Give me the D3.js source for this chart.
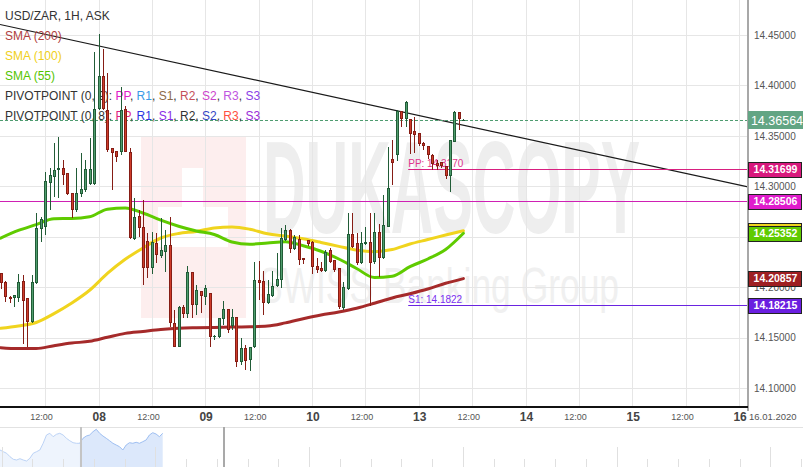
<!DOCTYPE html>
<html><head><meta charset="utf-8">
<script src="https://cdn.jsdelivr.net/npm/d3@7"></script>
<style>
html,body{margin:0;padding:0;background:#fff;}
svg{display:block;font-family:"Liberation Sans",Arial,sans-serif;}
</style></head><body>
<svg id="c" width="803" height="467"></svg>
<script>
// ---------- DATA ----------
const opens = [14.2138,14.2055,14.1907,14.1891,14.1897,14.2065,14.1891,14.1659,14.2039,14.2575,
14.2600,14.3036,14.3096,14.3162,14.3185,14.3129,14.2937,14.2766,14.2924,14.2964,
14.3023,14.3023,14.3764,14.4094,14.3757,14.3377,14.3353,14.3344,14.3764,14.3344,
14.2475,14.2706,14.2594,14.2462,14.2188,14.2436,14.2313,14.2353,14.2419,14.1649,
14.1411,14.1801,14.1735,14.2154,14.1824,14.1963,14.1907,14.1940,14.1504,14.1510,
14.1683,14.1782,14.1616,14.1702,14.1262,14.1395,14.1279,14.1411,14.2072,14.2062,
14.1841,14.1914,14.2013,14.2072,14.2468,14.2568,14.2376,14.2475,14.2287,14.2468,
14.2452,14.2211,14.2188,14.2164,14.2369,14.2270,14.2188,14.1792,14.1980,14.2528,
14.2436,14.2238,14.2426,14.2446,14.2250,14.2551,14.2287,14.2600,14.3268,14.3311,
14.3747,14.3665,14.3665,14.3549,14.3526,14.3433,14.3400,14.3314,14.3232,14.3244,
14.3199,14.3103,14.3443,14.3732,14.3650];
const highs = [14.2141,14.2062,14.1914,14.1926,14.2132,14.2122,14.1894,14.2122,14.2736,14.2699,
14.3145,14.3179,14.3427,14.3486,14.3261,14.3132,14.2939,14.3182,14.3328,14.3261,
14.3476,14.4335,14.4510,14.4358,14.4120,14.3380,14.3355,14.3988,14.3796,14.3377,
14.2882,14.2766,14.2865,14.2538,14.2551,14.2535,14.2684,14.2568,14.2699,14.1775,
14.1814,14.1824,14.2211,14.2156,14.2023,14.1965,14.2023,14.1943,14.1527,14.1696,
14.1867,14.1785,14.1782,14.1705,14.1494,14.1428,14.1408,14.2253,14.2260,14.2161,
14.2072,14.2164,14.2337,14.2584,14.2617,14.2573,14.2518,14.2518,14.2290,14.2470,
14.2454,14.2287,14.2250,14.2369,14.2392,14.2272,14.2191,14.2055,14.2733,14.2739,
14.2535,14.2545,14.2594,14.2733,14.2739,14.2627,14.2914,14.3390,14.3459,14.3757,
14.3750,14.3841,14.3668,14.3690,14.3532,14.3443,14.3402,14.3321,14.3261,14.3246,
14.3202,14.3462,14.3742,14.3737,14.3663];
const lows = [14.1983,14.1857,14.1847,14.1807,14.1857,14.1438,14.1411,14.1643,14.2037,14.2452,
14.2518,14.2766,14.2898,14.2882,14.3014,14.2914,14.2684,14.2749,14.2898,14.2947,
14.3018,14.3018,14.3757,14.3757,14.3341,14.2964,14.3244,14.3311,14.3341,14.2478,
14.2468,14.2501,14.2023,14.2092,14.2132,14.2238,14.2287,14.2154,14.1609,14.1405,
14.1408,14.1693,14.1693,14.1693,14.1725,14.1742,14.1824,14.1411,14.1477,14.1494,
14.1626,14.1544,14.1577,14.1213,14.1230,14.1180,14.1173,14.1395,14.1874,14.1725,
14.1834,14.1904,14.2003,14.1990,14.2459,14.2337,14.2369,14.2221,14.2228,14.2409,
14.2132,14.2144,14.2151,14.2151,14.2241,14.2151,14.1782,14.1775,14.1973,14.2389,
14.2221,14.2231,14.2419,14.1814,14.2231,14.2105,14.2280,14.2597,14.3014,14.3251,
14.3588,14.3591,14.3321,14.3328,14.3400,14.3360,14.3271,14.3162,14.3162,14.3182,
14.3073,14.2947,14.3440,14.3559,14.3643];
const closes = [14.2039,14.1901,14.1884,14.1920,14.2049,14.1867,14.1659,14.2049,14.2584,14.2672,
14.3053,14.3113,14.3162,14.3185,14.3113,14.2921,14.2766,14.2931,14.2971,14.3169,
14.3169,14.3764,14.4094,14.3764,14.3360,14.3334,14.3294,14.3757,14.3344,14.2485,
14.2699,14.2584,14.2188,14.2188,14.2452,14.2320,14.2369,14.2419,14.1643,14.1411,
14.1801,14.1735,14.2154,14.1824,14.1973,14.1917,14.1996,14.1504,14.1517,14.1693,
14.1782,14.1577,14.1702,14.1262,14.1395,14.1269,14.1405,14.2072,14.2042,14.1841,
14.1930,14.2016,14.2082,14.2485,14.2568,14.2376,14.2495,14.2270,14.2270,14.2426,
14.2204,14.2171,14.2164,14.2353,14.2253,14.2171,14.1801,14.2000,14.2528,14.2402,
14.2238,14.2436,14.2446,14.2238,14.2551,14.2287,14.2617,14.2981,14.3234,14.3747,
14.3665,14.3839,14.3519,14.3509,14.3420,14.3397,14.3311,14.3217,14.3205,14.3199,
14.3106,14.3459,14.3732,14.3670,14.36564];

const smaSlots = [0,4,8,12,16,20,24,28,32,36,40,44,48,52,56,60,64,68,72,76,80,84,88,92,96,100,104];
const sma200 = [14.1401,14.1392,14.1392,14.1421,14.1447,14.1464,14.1504,14.1543,14.1562,14.1581,14.1594,14.1599,14.1602,14.1605,14.1608,14.1615,14.1647,14.1688,14.1725,14.1755,14.1792,14.1841,14.1894,14.1936,14.1983,14.2039,14.20857];
const sma100 = [14.1593,14.1617,14.1651,14.1739,14.1844,14.1970,14.2137,14.2277,14.2389,14.2488,14.2533,14.2553,14.2588,14.2598,14.2575,14.2530,14.2507,14.2480,14.2444,14.2405,14.2368,14.2353,14.2374,14.2429,14.2473,14.2518,14.2560];
const sma55  = [14.2487,14.2563,14.2621,14.2680,14.2681,14.2698,14.2774,14.2786,14.2736,14.2665,14.2605,14.2558,14.2523,14.2449,14.2426,14.2439,14.2451,14.2411,14.2357,14.2280,14.2186,14.2096,14.2108,14.2204,14.2280,14.2374,14.25352];

const trendSlots = [-0.13, 167.95];
const trendPrices = [14.4604, 14.2994];

const lastPrice = 14.36564;
const pivotPP9 = 14.28506;          // PIVOTPOINT (0, 9) PP, full width
const pivotPP8 = 14.31699;          // PIVOTPOINT (0, 8) PP
const pivotS18 = 14.18215;          // PIVOTPOINT (0, 8) S1
const pivot8StartSlot = 91.6;

const priceTicks = [14.10,14.15,14.20,14.25,14.30,14.35,14.40,14.45];
const timeSlots  = [10,22,34,46,58,70,82,94,106,118,130,142,154,166];
const timeLabels = ["12:00","08","12:00","09","12:00","10","12:00","13","12:00","14","12:00","15","12:00","16"];

const legendTitle = "USD/ZAR, 1H, ASK";
const smaNames  = ["SMA (200)","SMA (100)","SMA (55)"];
const smaColors = ["#a52a2a","#f0d41e","#5fcb00"];
const smaTextColors = ["#b0413e","#f0d020","#55c400"];
const pivotNames = ["PP","R1","S1","R2","S2","R3","S3"];
const pivot9Colors = ["#e020c8","#3a9ae6","#8c6a48","#c4505a","#cc44cc","#c055e0","#8a3ee6"];
const pivot8Colors = ["#e01f82","#2a36e0","#8a2be6","#333333","#3444c4","#ff5040","#9a2ed8"];

const navValues = [14.2125,14.1913,14.1713,14.1288,14.0963,14.0875,14.1038,14.0875,14.0750,14.1088,
14.1713,14.1913,14.2125,14.2963,14.4000,14.4213,14.3788,14.4088,14.4213,14.4000,
14.3588,14.3288,14.3038,14.2963,14.2963,14.3588,14.3875,14.4000,14.4413,14.4713,
14.4213,14.3875,14.3588,14.3288,14.2963,14.2750,14.2538,14.2125,14.2750,14.3038,
14.2963,14.3088,14.2963,14.3163,14.3375,14.4000,14.4288,14.4125,14.3788,14.4213];
const navSplit = 24;

// ---------- LAYOUT ----------
const W = 803, H = 467, plotR = 748, plotB = 407;
const svg = d3.select("#c");
const x = d3.scaleLinear().domain([0,166]).range([0.6,739.3]);
const y = d3.scaleLinear().domain([14.10,14.45]).range([388.15,35]);

svg.append("defs").append("clipPath").attr("id","plot")
  .append("rect").attr("x",0).attr("y",0).attr("width",plotR).attr("height",plotB);

const plot = svg.append("g").attr("clip-path","url(#plot)");

// watermark
const wm = plot.append("g");
wm.append("rect").attr("x",141).attr("y",137).attr("width",105).attr("height",181).attr("fill","#fdeeee");
wm.append("rect").attr("x",182).attr("y",168).attr("width",21).attr("height",40).attr("fill","#fff");
wm.append("rect").attr("x",158).attr("y",207).attr("width",70).attr("height",40).attr("fill","#fff");
wm.append("text").attr("x",263).attr("y",233).attr("font-size",132).attr("font-weight","bold")
  .attr("fill","#eeeeee").attr("textLength",377).attr("lengthAdjust","spacingAndGlyphs").text("DUKASCOPY");
wm.append("text").attr("x",259).attr("y",303).attr("font-size",50)
  .attr("fill","#f0f0f0").attr("textLength",360).attr("lengthAdjust","spacingAndGlyphs").text("SWISS Banking Group");

// gridlines
plot.append("g").selectAll("line").data(timeSlots).join("line")
  .attr("x1",d=>Math.round(x(d))+0.5).attr("x2",d=>Math.round(x(d))+0.5)
  .attr("y1",0).attr("y2",plotB).attr("stroke","#e6e6e6");
plot.append("g").selectAll("line").data(priceTicks).join("line")
  .attr("y1",d=>Math.round(y(d))+0.5).attr("y2",d=>Math.round(y(d))+0.5)
  .attr("x1",0).attr("x2",plotR).attr("stroke","#e6e6e6");

// legend
const lg = svg.append("g").attr("font-size",12);
lg.append("text").attr("x",5).attr("y",20).attr("fill","#333").text(legendTitle);
smaNames.forEach((n,i)=>lg.append("text").attr("x",5).attr("y",40+20*i).attr("fill",smaTextColors[i]).text(n));
[["PIVOTPOINT (0, 9): ",pivot9Colors],["PIVOTPOINT (0, 8): ",pivot8Colors]].forEach((row,r)=>{
  const t = lg.append("text").attr("x",5).attr("y",100+20*r).attr("fill","#333");
  t.append("tspan").text(row[0]);
  pivotNames.forEach((p,i)=>{
    t.append("tspan").attr("fill",row[1][i]).text(p);
    if(i<pivotNames.length-1) t.append("tspan").attr("fill","#333").text(", ");
  });
});

// candles
const candles = opens.map((o,i)=>({i,o,h:highs[i],l:lows[i],c:closes[i]}));
const cg = svg.append("g").attr("clip-path","url(#plot)").attr("shape-rendering","crispEdges");
candles.forEach(d=>{
  const up = d.c >= d.o;
  const dark = up ? "#215c37" : "#861d15";
  const fill = up ? "#4f9d6d" : "#cf3c2a";
  const cx = Math.round(x(d.i));
  const yt = Math.round(y(Math.max(d.o,d.c))), yb = Math.max(Math.round(y(Math.min(d.o,d.c))), yt+1);
  cg.append("rect").attr("x",cx).attr("width",1)
    .attr("y",Math.round(y(d.h))).attr("height",Math.max(1,Math.round(y(d.l))-Math.round(y(d.h))))
    .attr("fill",dark);
  cg.append("rect").attr("x",cx-1).attr("width",3).attr("y",yt).attr("height",yb-yt).attr("fill",dark);
  if (yb-yt>2) cg.append("rect").attr("x",cx).attr("width",1).attr("y",yt+1).attr("height",yb-yt-2).attr("fill",fill);
});

// SMAs
const smaSeries = [sma200, sma100, sma55];
const line = d3.line().x(d=>x(d[0])).y(d=>y(d[1])).curve(d3.curveMonotoneX);
smaSeries.forEach((s,k)=>{
  plot.append("path").datum(smaSlots.map((sl,i)=>[sl,s[i]]))
    .attr("d",line).attr("fill","none").attr("stroke",smaColors[k]).attr("stroke-width",3)
    .attr("stroke-linejoin","round").attr("stroke-linecap","round");
});

// trendline
plot.append("line").attr("x1",x(trendSlots[0])).attr("y1",y(trendPrices[0]))
  .attr("x2",x(trendSlots[1])).attr("y2",y(trendPrices[1]))
  .attr("stroke","#1a1a1a").attr("stroke-width",1.2);

// pivot lines
plot.append("line").attr("x1",0).attr("x2",plotR).attr("y1",Math.round(y(pivotPP9))+0.5).attr("y2",Math.round(y(pivotPP9))+0.5)
  .attr("stroke","#cf20b4").attr("stroke-width",1.2);
plot.append("line").attr("x1",x(pivot8StartSlot)).attr("x2",plotR).attr("y1",Math.round(y(pivotPP8))+0.5).attr("y2",Math.round(y(pivotPP8))+0.5)
  .attr("stroke","#d81f80").attr("stroke-width",1.2);
plot.append("line").attr("x1",x(pivot8StartSlot)).attr("x2",plotR).attr("y1",Math.round(y(pivotS18))+0.5).attr("y2",Math.round(y(pivotS18))+0.5)
  .attr("stroke","#6a24e0").attr("stroke-width",1.2);
const f4 = d3.format(".4f"), f5 = d3.format(".5f");
plot.append("text").attr("x",x(pivot8StartSlot)).attr("y",y(pivotPP8)-2.5).attr("font-size",10)
  .attr("fill","#e0358c").text("PP: "+f4(pivotPP8));
plot.append("text").attr("x",x(pivot8StartSlot)).attr("y",y(pivotS18)-2).attr("font-size",10)
  .attr("fill","#7b2ff0").text("S1: "+f4(pivotS18));

// current price line
plot.append("line").attr("x1",0).attr("x2",plotR).attr("y1",Math.round(y(lastPrice))+0.5).attr("y2",Math.round(y(lastPrice))+0.5)
  .attr("stroke","#4f9c70").attr("stroke-dasharray","3,2");

// right axis
const ax = svg.append("g").attr("transform",`translate(${plotR},0)`)
  .call(d3.axisRight(y).tickValues(priceTicks).tickFormat(f5).tickSize(0).tickPadding(6));
ax.select(".domain").remove();
ax.selectAll("text").attr("font-size",10).attr("fill","#555").attr("font-family","Liberation Sans, Arial, sans-serif");
svg.append("line").attr("x1",plotR).attr("x2",plotR).attr("y1",0).attr("y2",plotB+4)
  .attr("stroke","#a8a8a8").attr("stroke-width",2);

// bottom axis
svg.append("line").attr("x1",0).attr("x2",plotR).attr("y1",plotB).attr("y2",plotB)
  .attr("stroke","#111").attr("stroke-width",2);
svg.append("g").selectAll("text").data(timeSlots).join("text")
  .attr("x",(d,i)=>x(d)+(timeLabels[i]==="12:00"?-3.5:0.8))
  .attr("y",(d,i)=>timeLabels[i]==="12:00"?420:421)
  .attr("text-anchor","middle")
  .attr("font-size",(d,i)=>timeLabels[i]==="12:00"?9:12)
  .attr("font-weight",(d,i)=>timeLabels[i]==="12:00"?"normal":"bold")
  .attr("fill",(d,i)=>timeLabels[i]==="12:00"?"#555":"#444")
  .text((d,i)=>timeLabels[i]);
svg.append("text").attr("x",749).attr("y",420).attr("font-size",9.5).attr("fill","#555").text("16.01.2020");

// price boxes
const boxes = [
  {v:sma100[sma100.length-1], fill:"#f0d41e", h:15},
  {v:pivotPP8, fill:"#d8187d", h:15},
  {v:pivotPP9, fill:"#e01ccc", h:15},
  {v:sma55[sma55.length-1], fill:"#5fcb00", h:15},
  {v:sma200[sma200.length-1], fill:"#9e1f22", h:15},
  {v:pivotS18, fill:"#6a1ee0", h:15},
];
boxes.forEach(b=>{
  const yc = y(b.v);
  svg.append("rect").attr("x",plotR+0.5).attr("y",Math.round(yc-b.h/2)+0.5).attr("width",53).attr("height",b.h)
    .attr("fill",b.fill).attr("stroke","#222").attr("stroke-width",1);
  svg.append("text").attr("x",plotR+27.5).attr("y",yc+3.8).attr("text-anchor","middle")
    .attr("font-size",10.5).attr("font-weight","bold").attr("fill","#fff").text(f5(b.v));
});
{
  const yc = y(lastPrice);
  svg.append("rect").attr("x",plotR).attr("y",Math.round(yc-9)).attr("width",55).attr("height",18).attr("fill","#62a584");
  svg.append("text").attr("x",plotR+29).attr("y",yc+4.5).attr("text-anchor","middle")
    .attr("font-size",12.5).attr("fill","#fff").text(f5(lastPrice));
}

// navigator
const nx = d3.scaleLinear().domain([0,navValues.length-1]).range([0,162.7]);
const ny = d3.scaleLinear().domain([14.0,14.5]).range([467,427]);
svg.append("line").attr("x1",0).attr("x2",W).attr("y1",427.5).attr("y2",427.5).attr("stroke","#e2e2e2");
const navArea = d3.area().x(d=>nx(d[0])).y0(467).y1(d=>ny(d[1]));
const navLine = d3.line().x(d=>nx(d[0])).y(d=>ny(d[1]));
const navPts = navValues.map((v,i)=>[i,v]);
const partA = navPts.slice(0,navSplit+1), partB = navPts.slice(navSplit);
svg.append("path").datum(partA).attr("d",navArea).attr("fill","#eef4fd");
svg.append("path").datum(partB).attr("d",navArea).attr("fill","#dce8fb");
svg.append("path").datum(partA).attr("d",navLine).attr("fill","none").attr("stroke","#bcd3f6");
svg.append("path").datum(partB).attr("d",navLine).attr("fill","none").attr("stroke","#9ebff2");
const navTicks = d3.range(0,27);
svg.append("g").selectAll("line").data(navTicks).join("line")
  .attr("x1",k=>Math.round(1.7+30.75*k)+0.5).attr("x2",k=>Math.round(1.7+30.75*k)+0.5)
  .attr("y1",k=>k%5===0?447:459).attr("y2",467).attr("stroke","#e0e0e0");
svg.append("line").attr("x1",81).attr("x2",81).attr("y1",427).attr("y2",467).attr("stroke","#c4c4c4").attr("stroke-width",2);
svg.append("line").attr("x1",224).attr("x2",224).attr("y1",427).attr("y2",467).attr("stroke","#a9a9a9").attr("stroke-width",2);
</script>
</body></html>
